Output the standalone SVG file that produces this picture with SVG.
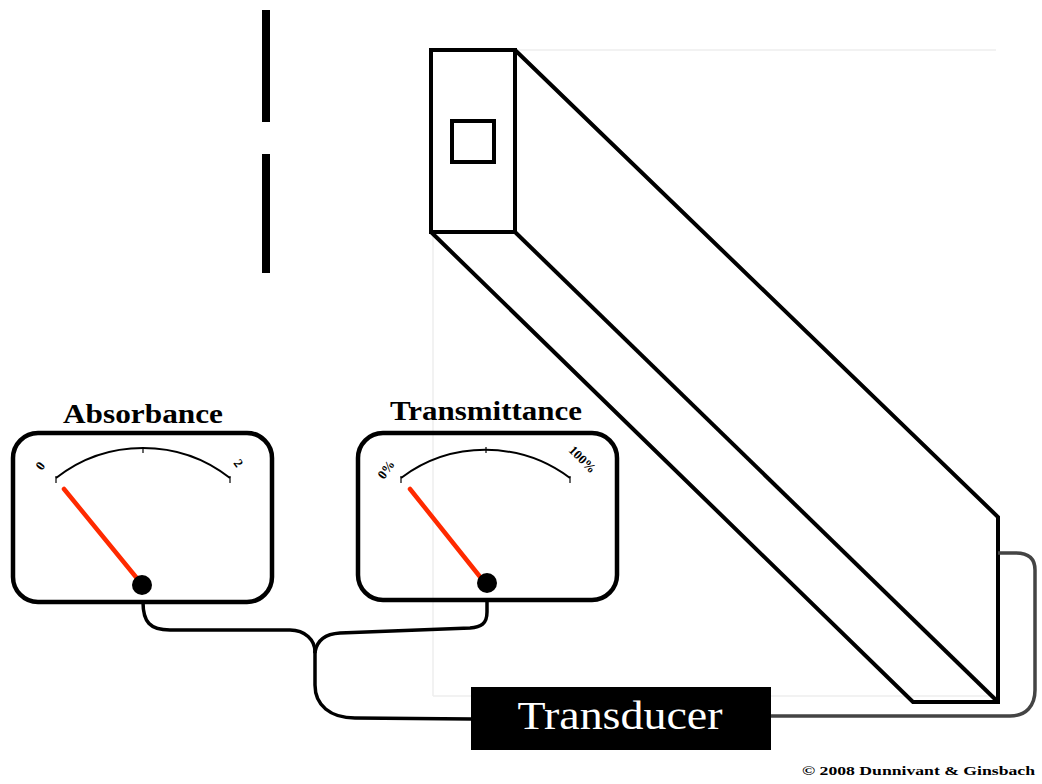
<svg xmlns="http://www.w3.org/2000/svg" width="1042" height="784" viewBox="0 0 1042 784">
  <style>
    .edge { fill: none; stroke: #000; stroke-width: 4; stroke-linejoin: miter; }
    .faint { fill: none; stroke: #eeeeee; stroke-width: 1.5; }
    .face { fill: none; stroke: #000; stroke-width: 4.5; rx: 25; }
    .scale { fill: none; stroke: #000; stroke-width: 2; }
    .tick { stroke: #000; stroke-width: 1.2; }
    .needle { stroke: #ff2a00; stroke-width: 4.5; stroke-linecap: round; }
    .cable { fill: none; stroke: #000; stroke-width: 3.5; stroke-linecap: round; }
    .cable-grey { fill: none; stroke: #444; stroke-width: 3.5; }
    .title { font-family: "Liberation Serif", "Times New Roman", serif; font-weight: bold; font-size: 27px; text-anchor: middle; fill: #000; }
    .lbl { font-family: "Liberation Serif", "Times New Roman", serif; font-weight: bold; font-size: 13px; fill: #000; }
  </style>
  <rect width="1042" height="784" fill="#fff"/>

  <!-- slit -->
  <g id="slit">
    <rect x="262" y="10" width="8" height="112" fill="#000"/>
    <rect x="262" y="154" width="8" height="119" fill="#000"/>
  </g>

  <!-- faint background frame -->
  <g id="frame">
    <line class="faint" x1="516" y1="50" x2="996" y2="50"/>
    <line class="faint" x1="433" y1="236" x2="433" y2="696"/>
    <line class="faint" x1="433" y1="696" x2="996" y2="696"/>
  </g>

  <!-- cuvette in perspective -->
  <g id="cuvette">
    <rect class="edge" x="431" y="50" width="84" height="182"/>
    <rect class="edge" x="452" y="121" width="42" height="41"/>
    <polyline class="edge" points="515,50 998,517 998,702 913,702 431,232"/>
    <line class="edge" x1="515" y1="232" x2="998" y2="702"/>
  </g>

  <!-- connectors -->
  <g id="connectors">
    <!-- absorbance meter to junction -->
    <path class="cable" d="M143,602 C143,622 150,630 170,630 L290,630 C305,630 315,640 315,652"/>
    <!-- transmittance meter to junction -->
    <path class="cable" d="M487,600 L487,612 C487,624 481,627 470,628 L340,633 C325,634 317,640 315,652"/>
    <!-- junction to transducer -->
    <path class="cable" d="M315,652 L315,685 C315,705 330,718 355,718 L472,719"/>
    <!-- transducer to cuvette -->
    <path class="cable-grey" d="M771,716 L1010,716 C1026,716 1035,706 1035,690 L1035,570 C1035,558 1028,553 1016,553 L998,553"/>
  </g>

  <!-- absorbance meter -->
  <g id="absorbance">
    <text class="title" x="143" y="423" textLength="160" lengthAdjust="spacingAndGlyphs">Absorbance</text>
    <rect class="face" x="13" y="433" width="259" height="169"/>
    <path class="scale" d="M56,478 A141,141 0 0 1 230,478"/>
    <line class="tick" x1="56" y1="476" x2="56" y2="483"/>
    <line class="tick" x1="143" y1="447" x2="143" y2="453"/>
    <line class="tick" x1="230" y1="476" x2="230" y2="483"/>
    <text class="lbl" transform="translate(42,471) rotate(-55)">0</text>
    <text class="lbl" transform="translate(233,463) rotate(55)">2</text>
    <line class="needle" x1="64" y1="489" x2="140" y2="582"/>
    <circle cx="142" cy="585" r="10" fill="#000"/>
  </g>

  <!-- transmittance meter -->
  <g id="transmittance">
    <text class="title" x="486" y="420" textLength="192" lengthAdjust="spacingAndGlyphs">Transmittance</text>
    <rect class="face" x="358" y="433" width="259" height="167"/>
    <path class="scale" d="M401,478 A141,141 0 0 1 570,478"/>
    <line class="tick" x1="401" y1="476" x2="401" y2="483"/>
    <line class="tick" x1="486" y1="447" x2="486" y2="453"/>
    <line class="tick" x1="570" y1="476" x2="570" y2="483"/>
    <text class="lbl" transform="translate(384,480) rotate(-55)">0%</text>
    <text class="lbl" transform="translate(568,451) rotate(45)">100%</text>
    <line class="needle" x1="410" y1="489" x2="481" y2="578"/>
    <circle cx="487" cy="583" r="10" fill="#000"/>
  </g>

  <!-- transducer -->
  <g id="transducer">
    <rect x="471" y="687" width="300" height="63" fill="#000"/>
    <text x="620" y="729" font-family="Liberation Serif, 'Times New Roman', serif" font-size="40" textLength="205" lengthAdjust="spacingAndGlyphs" text-anchor="middle" fill="#fff">Transducer</text>
  </g>

  <!-- credit line -->
  <text x="802" y="775" font-family="Liberation Serif, 'Times New Roman', serif" font-weight="bold" font-size="13" textLength="233" lengthAdjust="spacingAndGlyphs" fill="#000">© 2008 Dunnivant &amp; Ginsbach</text>
</svg>
